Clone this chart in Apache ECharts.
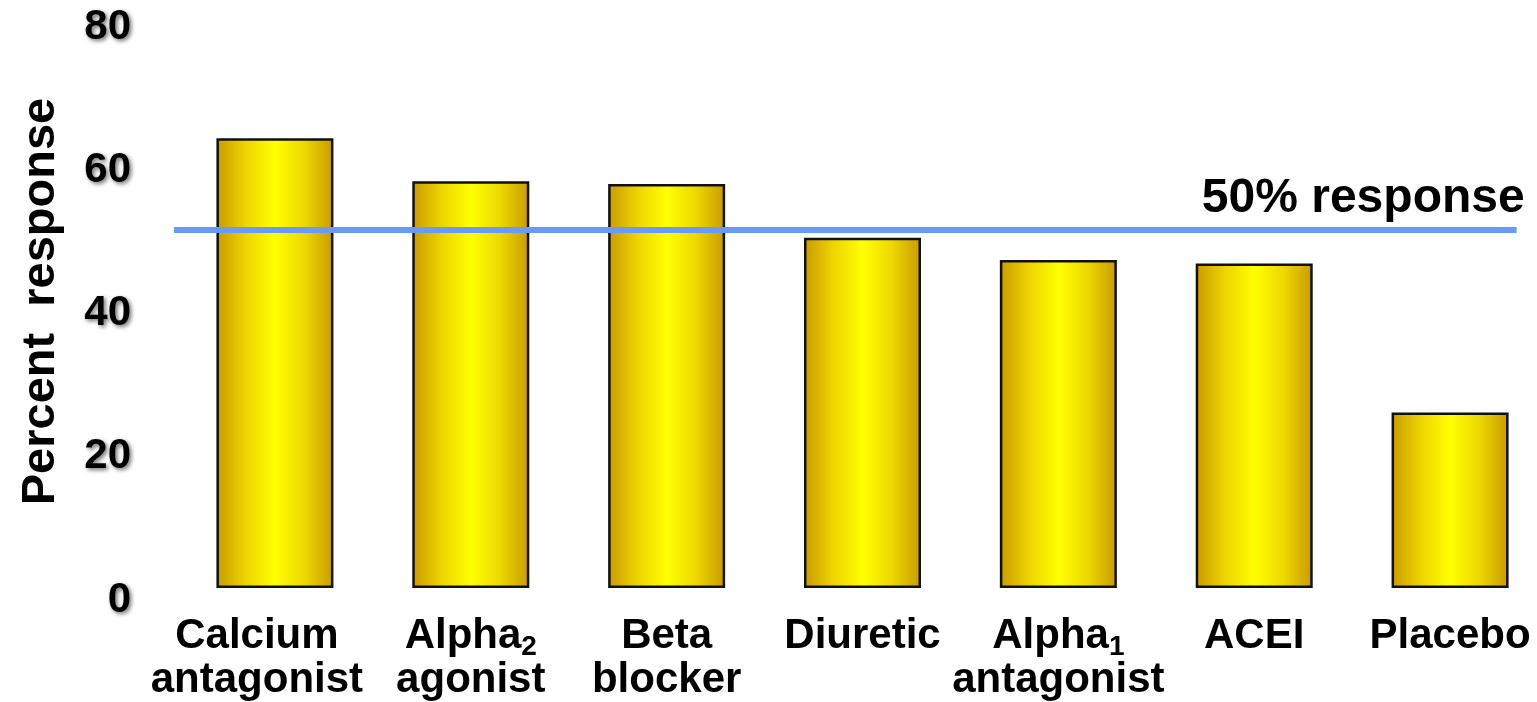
<!DOCTYPE html>
<html>
<head>
<meta charset="utf-8">
<script src="https://cdn.jsdelivr.net/npm/echarts@6/dist/echarts.min.js"></script>
<style>
  html, body { margin: 0; padding: 0; background: #fff; }
  #main { width: 1537px; height: 702px; }
</style>
</head>
<body>
<div id="main"></div>
<script>
  // categories (rich text for subscripts)
  var categories = [
    'Calcium\nantagonist',
    '{t|Alpha}{sub|2}\nagonist',
    'Beta\nblocker',
    'Diuretic',
    '{t|Alpha}{sub|1}\nantagonist',
    'ACEI',
    'Placebo'
  ];
  var responseValues = [62.8, 56.8, 56.4, 48.9, 45.8, 45.3, 24.5];
  var yTicks = [0, 20, 40, 60, 80];
  // reference line: 50% response, spans from left of first bar to near right edge
  var refLevel = 50;
  var refLineX = [-0.52, 6.34];

  var font = '"Liberation Sans", Arial, sans-serif';
  var myChart = echarts.init(document.getElementById('main'));

  var barColor = new echarts.graphic.LinearGradient(0, 0, 1, 0, [
    { offset: 0, color: '#c99a00' },
    { offset: 0.25, color: '#eed400' },
    { offset: 0.5, color: '#ffff00' },
    { offset: 0.75, color: '#eed800' },
    { offset: 1, color: '#c99a00' }
  ]);

  var xLabels = categories.map(function (c, i) {
    // first label sits a little left of its bar in the original
    if (i === 0) {
      return { value: c, textStyle: { padding: [0, 36, 0, 0] } };
    }
    return c;
  });

  var option = {
    animation: false,
    grid: {
      left: 177, width: 1371, top: 15, bottom: 114,
      containLabel: false,
      outerBoundsMode: 'none'
    },
    xAxis: [{
      type: 'category',
      data: xLabels,
      axisLine: { show: false },
      axisTick: { show: false },
      axisLabel: {
        interval: 0,
        margin: 26,
        fontFamily: font,
        fontWeight: 'bold',
        fontSize: 42,
        lineHeight: 44,
        color: '#000',
        rich: {
          t: { fontFamily: font, fontWeight: 'bold', fontSize: 42, color: '#000' },
          sub: { fontFamily: font, fontWeight: 'bold', fontSize: 28, color: '#000', padding: [22, 0, 0, 0] }
        }
      }
    }, {
      type: 'value',
      min: -0.5,
      max: 6.5,
      show: false
    }],
    yAxis: {
      type: 'value',
      min: yTicks[0],
      max: yTicks[yTicks.length - 1],
      interval: 20,
      name: 'Percent  response',
      nameLocation: 'middle',
      nameGap: 112,
      nameTextStyle: { fontFamily: font, fontWeight: 'bold', fontSize: 47, color: '#000' },
      axisLine: { show: false },
      axisTick: { show: false },
      splitLine: { show: false },
      axisLabel: {
        margin: 46,
        fontFamily: font,
        fontWeight: 'bold',
        fontSize: 42,
        color: '#000',
        verticalAlign: 'top',
        lineHeight: 24,
        textShadowColor: 'rgba(0,0,0,0.55)',
        textShadowBlur: 4,
        textShadowOffsetX: 2,
        textShadowOffsetY: 2
      }
    },
    series: [{
      type: 'bar',
      data: responseValues,
      barWidth: 117,
      itemStyle: { color: barColor, borderColor: '#111', borderWidth: 2.5 }
    }, {
      type: 'line',
      xAxisIndex: 1,
      symbol: 'circle',
      symbolSize: 0,
      lineStyle: { color: '#6a9af7', width: 6 },
      itemStyle: { color: '#6a9af7' },
      data: [
        [refLineX[0], refLevel],
        {
          value: [refLineX[1], refLevel],
          label: {
            show: true,
            formatter: '50% response',
            position: 'left',
            distance: 0,
            offset: [8, -31],
            fontFamily: font,
            fontWeight: 'bold',
            fontSize: 48,
            color: '#000'
          }
        }
      ]
    }]
  };
  myChart.setOption(option);
</script>
</body>
</html>
